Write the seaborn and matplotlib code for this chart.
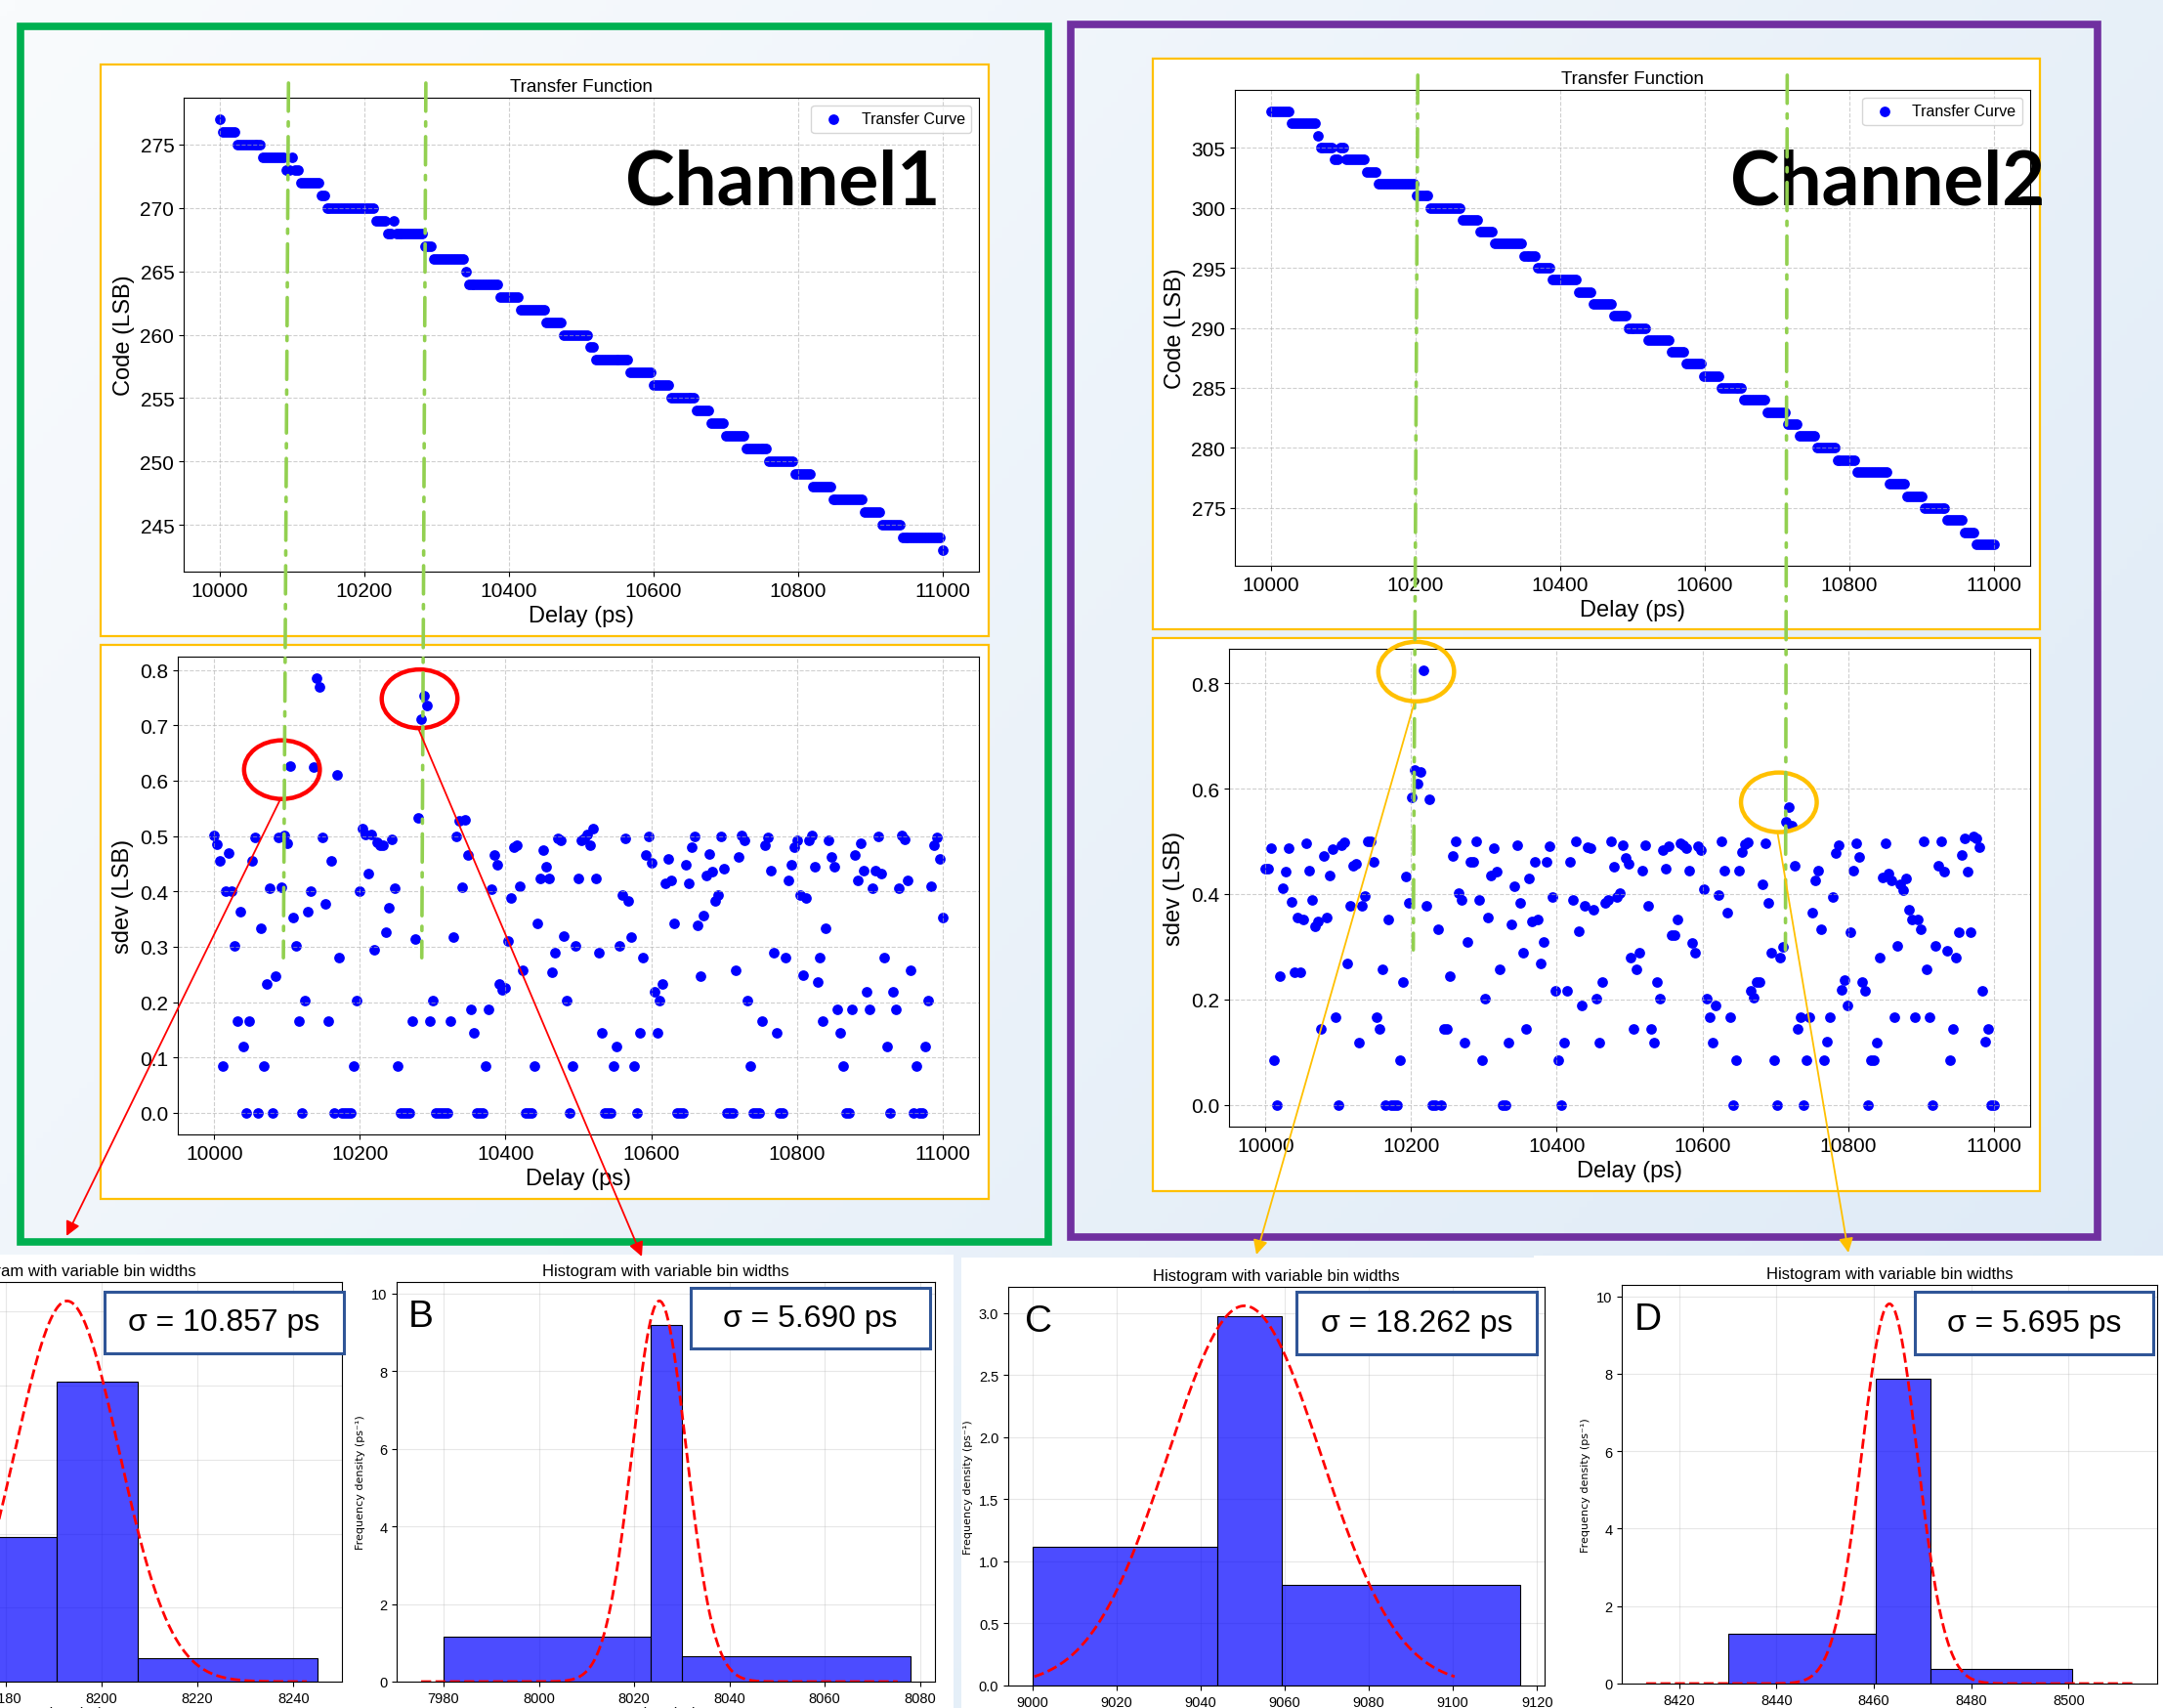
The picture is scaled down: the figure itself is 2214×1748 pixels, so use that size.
import numpy as np
import pandas as pd
import matplotlib
matplotlib.use('Agg')
import matplotlib.pyplot as plt
import seaborn as sns
from matplotlib.patches import Rectangle, Ellipse, ConnectionPatch
from matplotlib.colors import LinearSegmentedColormap

plt.rcParams['font.family'] = ['Liberation Sans', 'DejaVu Sans']

W, H = 2214, 1749

# ---------------- data ----------------
# transfer curve: code switches to ch*_codes[i] at delay ch*_starts[i] (ps)
ch1_starts = [10000, 10003, 10023, 10057, 10089, 10097, 10103, 10112, 10140, 10145,
              10213, 10230, 10237, 10242, 10282, 10293, 10339, 10343, 10388, 10415,
              10450, 10475, 10510, 10518, 10565, 10599, 10623, 10659, 10680, 10699,
              10727, 10758, 10793, 10818, 10846, 10891, 10915, 10943, 10998]
ch1_codes = [277, 276, 275, 274, 273, 274, 273, 272, 271, 270,
             269, 268, 269, 268, 267, 266, 265, 264, 263, 262,
             261, 260, 259, 258, 257, 256, 255, 254, 253, 252,
             251, 250, 249, 248, 247, 246, 245, 244, 243]

ch2_starts = [10000, 10028, 10063, 10068, 10088, 10095, 10102, 10132, 10147, 10198,
              10218, 10262, 10287, 10308, 10347, 10367, 10387, 10422, 10442, 10472,
              10492, 10522, 10553, 10573, 10597, 10622, 10653, 10683, 10711, 10727,
              10753, 10782, 10808, 10852, 10878, 10902, 10932, 10958, 10973]
ch2_codes = [308, 307, 306, 305, 304, 305, 304, 303, 302, 301,
             300, 299, 298, 297, 296, 295, 294, 293, 292, 291,
             290, 289, 288, 287, 286, 285, 284, 283, 282, 281,
             280, 279, 278, 277, 276, 275, 274, 273, 272]

# standard deviation per delay step (LSB), delay sweep 10000..11000 ps
ch1_sdev = [.501, .485, .455, .084, .400, .469, .400, .301, .166, .364,
            .119, 0, .166, .455, .497, 0, .334, .084, .233, .406,
            0, .246, .497, .408, .501, .487, .627, .352, .301, .166,
            0, .202, .364, .401, .625, .785, .770, .498, .377, .166,
            .456, 0, .610, .280, 0, 0, 0, 0, .084, .202,
            .400, .514, .502, .433, .502, .294, .489, .483, .483, .327,
            .371, .494, .406, .084, 0, 0, 0, 0, .166, .314,
            .533, .711, .753, .736, .166, .202, 0, 0, 0, 0,
            0, .166, .318, .499, .527, .408, .530, .465, .186, .145,
            0, 0, 0, .084, .186, .404, .466, .448, .233, .222,
            .226, .310, .388, .480, .484, .410, .257, 0, 0, 0,
            .084, .342, .424, .474, .445, .424, .254, .290, .495, .492,
            .319, .202, 0, .084, .301, .424, .492, .495, .502, .483,
            .513, .424, .290, .145, 0, 0, 0, .084, .119, .301,
            .394, .495, .383, .318, .084, 0, .145, .280, .465, .499,
            .451, .218, .145, .202, .232, .414, .458, .420, .342, 0,
            0, 0, .448, .414, .480, .499, .339, .246, .357, .429,
            .467, .435, .383, .394, .499, .441, 0, 0, 0, .257,
            .462, .501, .492, .202, .084, 0, 0, 0, .166, .484,
            .497, .437, .290, .145, 0, 0, .280, .420, .448, .480,
            .492, .394, .249, .388, .492, .501, .445, .236, .280, .166,
            .334, .492, .462, .445, .186, .145, .084, 0, 0, .186,
            .465, .420, .487, .438, .218, .186, .406, .437, .499, .433,
            .280, .119, 0, .218, .186, .406, .501, .494, .420, .257,
            0, .084, 0, 0, .119, .202, .410, .483, .498, .458, .352]

ch2_sdev = [.449, .449, .487, .084, 0, .245, .411, .442, .487, .385,
            .252, .356, .252, .351, .497, .445, .389, .339, .348, .144,
            .473, .356, .436, .485, .167, 0, .492, .498, .269, .377,
            .453, .457, .118, .377, .396, .500, .500, .462, .167, .144,
            .258, 0, .351, 0, 0, 0, .084, .233, .433, .383,
            .584, .636, .609, .631, .824, .377, .579, 0, 0, .334,
            0, .144, .144, .245, .473, .500, .402, .389, .118, .309,
            .462, .462, .500, .389, .084, .202, .356, .436, .487, .442,
            .258, 0, 0, .118, .343, .415, .492, .383, .289, .144,
            .430, .348, .462, .351, .269, .309, .462, .491, .394, .217,
            .084, 0, .118, .217, .462, .389, .500, .330, .188, .377,
            .489, .487, .371, .202, .118, .233, .384, .389, .500, .452,
            .395, .402, .492, .468, .457, .280, .144, .258, .289, .445,
            .492, .377, .144, .118, .233, .202, .483, .448, .490, .322,
            .322, .351, .497, .492, .487, .444, .308, .289, .490, .483,
            .410, .202, .167, .118, .188, .399, .500, .445, .364, .167,
            0, .084, .445, .480, .494, .498, .217, .204, .233, .233,
            .419, .497, .383, .289, .084, 0, .280, .300, .537, .564,
            .530, .454, .144, .167, 0, .084, .167, .364, .426, .444,
            .334, .084, .120, .167, .394, .478, .493, .218, .237, .188,
            .328, .444, .497, .470, .233, .217, 0, .084, .084, .118,
            .280, .431, .497, .438, .426, .167, .301, .419, .407, .430,
            .371, .351, .167, .351, .334, .500, .258, .167, 0, .301,
            .453, .500, .442, .292, .084, .144, .280, .327, .475, .506,
            .442, .327, .510, .506, .489, .217, .120, .144, 0, 0]

# delays marked by the green dash-dot lines
ch1_marks = [10095, 10285]
ch2_marks = [10203, 10714]

# histograms (bin edges in ps, frequency density in 1/ps) and gaussian fits
a_edges = [8160, 8190.6, 8207.5, 8245]
a_heights = [1.95, 4.05, 0.317]
b_edges = [7980, 8023.5, 8030, 8078]
b_heights = [1.16, 9.2, 0.665]
c_edges = [9000, 9044, 9059.2, 9116]
c_heights = [1.118, 2.974, 0.808]
d_edges = [8430, 8460.3, 8471.7, 8500.8]
d_heights = [1.286, 7.88, 0.378]
fit_mu = [8192.8, 8025.3, 9050.4, 8463.2]
fit_sigma = [10.857, 5.690, 18.262, 5.695]
n_samples = 140
hist_letters = ['A', 'B', 'C', 'D']
sigma_labels = ['σ = 10.857 ps', 'σ = 5.690 ps', 'σ = 18.262 ps', 'σ = 5.695 ps']


# ---------------- helpers ----------------
def rect(x0, y0, x1, y1):
    # pixel box (from top-left) -> figure fraction [l, b, w, h]
    return [x0 / W, 1 - y1 / H, (x1 - x0) / W, (y1 - y0) / H]


def box(fig, x0, y0, x1, y1, **kw):
    l, b, w, h = rect(x0, y0, x1, y1)
    p = Rectangle((l, b), w, h, transform=fig.transFigure, **kw)
    fig.add_artist(p)
    return p


def step_codes(delays, starts, codes):
    idx = np.searchsorted(starts, delays, side='right') - 1
    return np.array(codes)[idx]


fig = plt.figure(figsize=(W / 100, H / 100), dpi=100)

# background gradient
bg = fig.add_axes([0, 0, 1, 1], zorder=-10)
gx, gy = np.meshgrid(np.linspace(0, 1, 300), np.linspace(0, 1, 300))
bg.imshow(0.6 * gx + 0.4 * gy, cmap=LinearSegmentedColormap.from_list('bg', ['#f9fbfd', '#dce9f6']),
          extent=[0, 1, 0, 1], aspect='auto', origin='upper')
bg.axis('off')

# white panels / yellow frames
for b in [(103, 67, 1012, 652), (103, 661, 1012, 1228), (1180, 61, 2088, 645), (1180, 654, 2088, 1220)]:
    box(fig, *b, facecolor='white', edgecolor='#ffc000', lw=1.6, zorder=-1)
for b in [(0, 1285, 976, 1749), (984, 1288, 1570, 1749), (1570, 1286, 2214, 1749)]:
    box(fig, *b, facecolor='white', edgecolor='none', zorder=-1)
box(fig, 21, 28, 1073, 1272, facecolor='none', edgecolor='#00b050', lw=5.5, zorder=3)
box(fig, 1096, 26, 2147, 1267, facecolor='none', edgecolor='#7030a0', lw=5.5, zorder=3)

channels = [
    dict(name='Channel1', starts=ch1_starts, codes=ch1_codes, sdev=ch1_sdev, marks=ch1_marks,
         top=(188, 101, 1002, 586), bot=(182, 673, 1002, 1162), text_x=801, line_end=0.28,
         circles=[(10093, 0.62), (10282, 0.748)], circ_color='red', circ_h=0.106,
         arrow_ends=[(68, 1266), (657, 1287)]),
    dict(name='Channel2', starts=ch2_starts, codes=ch2_codes, sdev=ch2_sdev, marks=ch2_marks,
         top=(1264, 93, 2078, 580), bot=(1258, 665, 2078, 1154), text_x=1932, line_end=0.294,
         circles=[(10207, 0.822), (10705, 0.574)], circ_color='#ffc000', circ_h=0.113,
         arrow_ends=[(1286, 1285), (1892, 1283)]),
]

for ch in channels:
    n = len(ch['sdev'])
    delay = np.linspace(10000, 11000, n)
    code = step_codes(delay, ch['starts'], ch['codes'])

    ax1 = fig.add_axes(rect(*ch['top']))
    sns.scatterplot(x=delay, y=code, ax=ax1, color='blue', s=60, linewidth=0, label='Transfer Curve')
    ax1.set_title('Transfer Function', fontsize=13.5, pad=5)
    ax1.set_xlabel('Delay (ps)', fontsize=17)
    ax1.set_ylabel('Code (LSB)', fontsize=17)
    ax1.tick_params(labelsize=15)
    ax1.set_xticks([10000, 10200, 10400, 10600, 10800, 11000])
    ax1.set_yticks(np.arange(245, 310, 5))
    ax1.grid(True, linestyle='--', alpha=0.6)
    ax1.set_xlim(9950, 11050)
    lo, hi = min(ch['codes']), max(ch['codes'])
    ax1.set_ylim(lo - 0.05 * (hi - lo), hi + 0.05 * (hi - lo))
    ax1.legend(loc='upper right', fontsize=11.5, markerscale=1.0)

    ax2 = fig.add_axes(rect(*ch['bot']))
    sns.scatterplot(x=delay, y=ch['sdev'], ax=ax2, color='blue', s=60, linewidth=0)
    ax2.set_xlabel('Delay (ps)', fontsize=17)
    ax2.set_ylabel('sdev (LSB)', fontsize=17)
    ax2.tick_params(labelsize=15)
    ax2.set_xticks([10000, 10200, 10400, 10600, 10800, 11000])
    ax2.grid(True, linestyle='--', alpha=0.6)
    ax2.set_xlim(9950, 11050)
    smax = max(ch['sdev'])
    ax2.set_ylim(-0.05 * smax, smax * 1.05)
    if smax > 0.8:
        ax2.set_yticks([0, 0.2, 0.4, 0.6, 0.8])

    fig.text(ch['text_x'] / W, 1 - 188 / H, ch['name'], family='Lato', weight='bold',
             fontsize=55, ha='center', va='center')

    for xm in ch['marks']:
        cp = ConnectionPatch(xyA=(xm, 1.031), coordsA=ax1.get_xaxis_transform(),
                             xyB=(xm, ch['line_end']), coordsB=ax2.transData,
                             color='#92d050', lw=2.6, linestyle=(0, (8, 3, 1.2, 3)), zorder=5)
        fig.add_artist(cp)

    for (cx, cy), (ex, ey) in zip(ch['circles'], ch['arrow_ends']):
        ax2.add_patch(Ellipse((cx, cy), 104, ch['circ_h'], fill=False, edgecolor=ch['circ_color'],
                              lw=3.2, clip_on=False, zorder=6))
        ar = ConnectionPatch(xyA=(cx - 2, cy - ch['circ_h'] / 2), coordsA=ax2.transData,
                             xyB=(ex, H - ey), coordsB='figure pixels',
                             arrowstyle='-|>', mutation_scale=22, color=ch['circ_color'],
                             lw=1.3, zorder=6)
        fig.add_artist(ar)

# ---------------- histograms ----------------
hist_axes = [(-202, 1313, 350, 1722), (406, 1313, 957, 1722), (1032, 1318, 1581, 1726), (1660, 1316, 2208, 1724)]
sigma_boxes = [(107, 1323, 352, 1386), (707, 1319, 952, 1381), (1327, 1323, 1573, 1387), (1960, 1323, 2204, 1387)]
letter_x = [0.022, 0.022, 0.031, 0.024]
edges_all = [a_edges, b_edges, c_edges, d_edges]
heights_all = [a_heights, b_heights, c_heights, d_heights]

for i in range(4):
    ax = fig.add_axes(rect(*hist_axes[i]))
    e = np.array(edges_all[i], dtype=float)
    hgt = np.array(heights_all[i], dtype=float)
    df = pd.DataFrame({'t': (e[:-1] + e[1:]) / 2, 'w': hgt * np.diff(e)})
    sns.histplot(data=df, x='t', weights='w', bins=list(e), stat='frequency', ax=ax,
                 color='blue', alpha=0.7, edgecolor='black', linewidth=0.8)
    mu, sg = fit_mu[i], fit_sigma[i]
    gx = np.linspace(mu - 50, mu + 50, 300)
    gy = n_samples / (np.sqrt(2 * np.pi) * sg) * np.exp(-0.5 * ((gx - mu) / sg) ** 2)
    sns.lineplot(x=gx, y=gy, ax=ax, color='red', linestyle='--', linewidth=2)
    ax.set_title('Histogram with variable bin widths', fontsize=12, pad=5)
    ax.set_xlabel('Time (ps)', fontsize=11, labelpad=1)
    ax.set_ylabel('Frequency density (ps⁻¹)', fontsize=8, family='DejaVu Sans')
    ax.tick_params(labelsize=10.5)
    ax.grid(True, alpha=0.3)
    ax.set_axisbelow(True)
    ax.text(letter_x[i], 0.958, hist_letters[i], transform=ax.transAxes, fontsize=28,
            va='top', ha='left')
    box(fig, *sigma_boxes[i], facecolor='white', edgecolor='#2f5597', lw=2.2, zorder=7)
    sx0, sy0, sx1, sy1 = sigma_boxes[i]
    fig.text((sx0 + sx1) / 2 / W, 1 - (sy0 + sy1) / 2 / H, sigma_labels[i], fontsize=23,
             ha='center', va='center', zorder=8)

fig.savefig('out.png', dpi=100)
